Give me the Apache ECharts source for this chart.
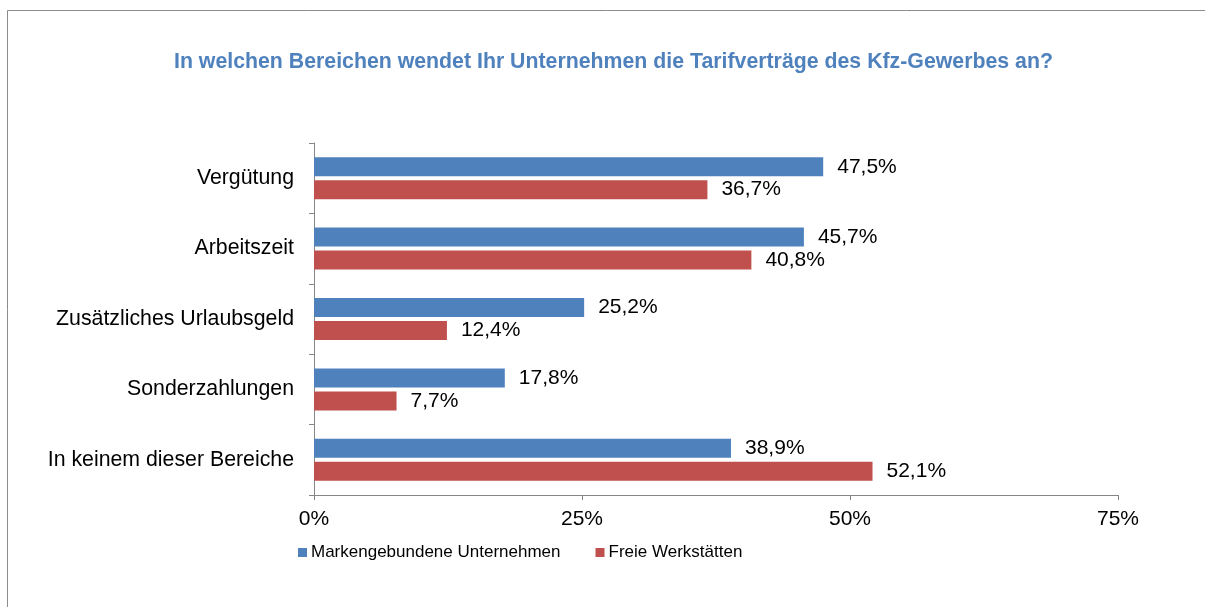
<!DOCTYPE html>
<html>
<head>
<meta charset="utf-8">
<script src="https://cdn.jsdelivr.net/npm/echarts@6/dist/echarts.min.js"></script>
<style>
html,body{margin:0;padding:0;background:#fff;}
#chart{width:1205px;height:607px;}
</style>
</head>
<body>
<div id="chart"></div>
<script>
const categories = ['Vergütung', 'Arbeitszeit', 'Zusätzliches Urlaubsgeld', 'Sonderzahlungen', 'In keinem dieser Bereiche'];
const markengebunden = [47.5, 45.7, 25.2, 17.8, 38.9];
const freie = [36.7, 40.8, 12.4, 7.7, 52.1];
const seriesNames = ['Markengebundene Unternehmen', 'Freie Werkstätten'];
const xTicks = [0, 25, 50, 75];

const font = 'Liberation Sans, Arial, sans-serif';
const chart = echarts.init(document.getElementById('chart'), null, {renderer: 'canvas'});
const fmt = p => p.value.toFixed(1).replace('.', ',') + '%';
const axisColor = '#868686';

chart.setOption({
  animation: false,
  title: {
    text: 'In welchen Bereichen wendet Ihr Unternehmen die Tarifverträge des Kfz-Gewerbes an?',
    left: 174, top: 52,
    padding: 0,
    textStyle: {color: '#4F81BD', fontSize: 21.3, fontWeight: 'bold', fontFamily: font}
  },
  graphic: [{
    type: 'rect', silent: true,
    shape: {x: 7.5, y: 10.5, width: 1300, height: 700},
    style: {fill: 'none', stroke: '#8c8c8c', lineWidth: 1}
  }],
  legend: {
    data: seriesNames,
    left: 298, top: 544,
    padding: 0,
    itemWidth: 9, itemHeight: 9, itemGap: 35,
    icon: 'rect',
    textStyle: {fontSize: 17, color: '#000', fontFamily: font, padding: [0, 0, 0, -1]}
  },
  grid: {left: 314, right: 87, top: 143, bottom: 112, containLabel: false},
  xAxis: {
    type: 'value', min: xTicks[0], max: xTicks[xTicks.length - 1], interval: 25,
    axisLine: {show: true, lineStyle: {color: axisColor, width: 1}},
    axisTick: {show: true, length: 5, lineStyle: {color: axisColor}},
    splitLine: {show: false},
    axisLabel: {formatter: '{value}%', fontSize: 21, color: '#000', margin: 14, fontFamily: font}
  },
  yAxis: {
    type: 'category', data: categories, inverse: true,
    axisLine: {show: true, lineStyle: {color: axisColor, width: 1}},
    axisTick: {show: true, length: 5, lineStyle: {color: axisColor}},
    axisLabel: {fontSize: 21.3, color: '#000', margin: 20, fontFamily: font}
  },
  series: [
    {
      name: seriesNames[0], type: 'bar', data: markengebunden,
      barWidth: 19, barGap: '21%',
      itemStyle: {color: '#4F81BD'},
      label: {show: true, position: 'right', distance: 14, formatter: fmt, fontSize: 21, color: '#000', fontFamily: font}
    },
    {
      name: seriesNames[1], type: 'bar', data: freie,
      barWidth: 19, barGap: '21%',
      itemStyle: {color: '#C0504D'},
      label: {show: true, position: 'right', distance: 14, formatter: fmt, fontSize: 21, color: '#000', fontFamily: font}
    }
  ]
});
</script>
</body>
</html>
